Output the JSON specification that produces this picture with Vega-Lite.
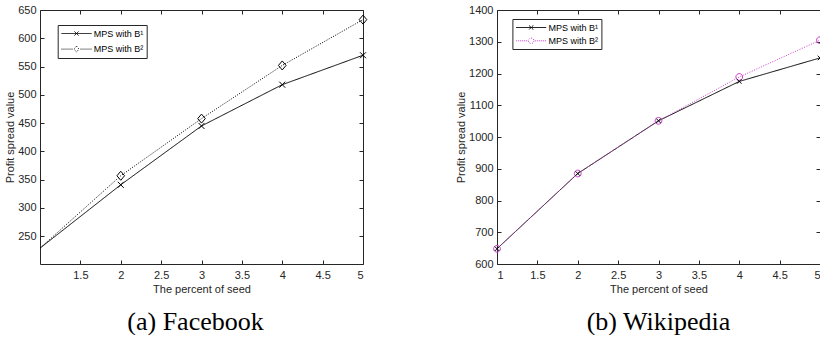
{
  "$schema": "https://vega.github.io/schema/vega-lite/v6.json",
  "background": "white",
  "padding": {"left": 4, "top": 4, "right": 0, "bottom": 0},
  "bounds": "flush",
  "spacing": 134,
  "config": {
    "view": {"stroke": null},
    "axis": {"grid": false, "domainColor": "#262626", "domainWidth": 1, "tickColor": "#262626", "tickSize": -4, "tickWidth": 1,
      "labelFont": "Liberation Sans", "labelFontSize": 11, "labelColor": "#262626",
      "titleFont": "Liberation Sans", "titleFontSize": 11, "titleFontWeight": "normal", "titleColor": "#262626"},
    "legend": {"strokeColor": "#262626", "fillColor": "white", "padding": 3,
      "symbolSize": 100, "symbolOffset": 10.3, "labelOffset": 11.7, "labelFont": "Liberation Sans", "labelFontSize": 9, "labelColor": "#000000",
      "symbolStrokeWidth": 1, "symbolOpacity": 1}
  },
  "resolve": {"scale": {"color": "independent", "strokeDash": "independent", "shape": "independent", "x": "independent", "y": "independent"}, "legend": {"color": "independent", "shape": "independent"}},
  "hconcat": [
    {
      "width": 323, "height": 254,
      "data": {"values": [
        {"percent": 1, "value": 229, "series": "MPS with B¹"},
        {"percent": 2, "value": 341, "series": "MPS with B¹"},
        {"percent": 3, "value": 445, "series": "MPS with B¹"},
        {"percent": 4, "value": 518, "series": "MPS with B¹"},
        {"percent": 5, "value": 570, "series": "MPS with B¹"},
        {"percent": 1, "value": 229, "series": "MPS with B²"},
        {"percent": 2, "value": 357, "series": "MPS with B²"},
        {"percent": 3, "value": 458, "series": "MPS with B²"},
        {"percent": 4, "value": 552, "series": "MPS with B²"},
        {"percent": 5, "value": 633, "series": "MPS with B²"}
      ]},
      "title": {"text": "(a) Facebook", "orient": "bottom", "anchor": "middle", "font": "Liberation Serif", "fontSize": 26, "fontWeight": "normal", "color": "#000000", "offset": 14, "dx": -6},
      "layer": [
        {
          "mark": {"type": "point", "filled": false, "strokeWidth": 1, "opacity": 0},
          "encoding": {
            "x": {"field": "percent", "type": "quantitative", "scale": {"domain": [1, 5], "nice": false, "zero": false}, "axis": null},
            "y": {"field": "value", "type": "quantitative", "scale": {"domain": [201, 650], "nice": false, "zero": false}, "axis": null},
            "color": {"field": "series", "type": "nominal", "scale": {"domain": ["MPS with B¹", "MPS with B²"], "range": ["#000000", "#000000"]},
              "legend": {"orient": "none", "title": null, "legendX": 17.7, "legendY": 15, "rowPadding": 4.6}},
            "shape": {"field": "series", "type": "nominal",
              "scale": {"domain": ["MPS with B¹", "MPS with B²"], "range": [
                "M-3,0H3M-0.4,-0.4L0.4,0.4M-0.4,0.4L0.4,-0.4",
                "M-3,0h0.2M-2.6,0h0.2M-2.2,0h0.2M-1.8,0h0.2M-1.4,0h0.2M-1,0h0.2M0,-0.6L0.5,0L0,0.6L-0.5,0ZM0.8,0h0.2M1.2,0h0.2M1.6,0h0.2M2,0h0.2M2.4,0h0.2M2.8,0h0.2"]},
              "legend": {"orient": "none", "title": null, "legendX": 17.7, "legendY": 15, "rowPadding": 4.6}}
          }
        },
        {
          "mark": {"type": "line", "strokeWidth": 1},
          "encoding": {
            "x": {"field": "percent", "type": "quantitative",
              "axis": {"orient": "bottom", "values": [1.5, 2, 2.5, 3, 3.5, 4, 4.5, 5], "format": "~g", "title": "The percent of seed", "labelPadding": 9.5, "titlePadding": 3}},
            "y": {"field": "value", "type": "quantitative",
              "axis": {"orient": "left", "values": [250, 300, 350, 400, 450, 500, 550, 600, 650], "format": "d", "title": "Profit spread value", "labelPadding": 8, "titlePadding": 2}},
            "color": {"field": "series", "type": "nominal", "legend": null},
            "strokeDash": {"field": "series", "type": "nominal", "scale": {"domain": ["MPS with B¹", "MPS with B²"], "range": [[1, 0], [1, 1.5]]}, "legend": null}
          }
        },
        {
          "transform": [{"filter": "datum.percent > 1 && datum.series === 'MPS with B¹'"}],
          "mark": {"type": "point", "filled": false, "strokeWidth": 1, "size": 81, "opacity": 1, "color": "#000000", "shape": "M-0.67,-0.67L0.67,0.67M-0.67,0.67L0.67,-0.67"},
          "encoding": {
            "x": {"field": "percent", "type": "quantitative", "axis": {"orient": "top", "values": [1.5, 2, 2.5, 3, 3.5, 4, 4.5, 5], "labels": false, "title": null}},
            "y": {"field": "value", "type": "quantitative", "axis": {"orient": "right", "values": [250, 300, 350, 400, 450, 500, 550, 600, 650], "labels": false, "title": null}}
          }
        },
        {
          "transform": [{"filter": "datum.percent > 1 && datum.series === 'MPS with B²'"}],
          "mark": {"type": "point", "filled": false, "strokeWidth": 1, "size": 81, "opacity": 1, "color": "#000000", "shape": "M0,-1L0.85,0L0,1L-0.85,0Z"},
          "encoding": {
            "x": {"field": "percent", "type": "quantitative", "axis": null},
            "y": {"field": "value", "type": "quantitative", "axis": null}
          }
        }
      ],
      "resolve": {"axis": {"x": "independent", "y": "independent"}}
    },
    {
      "width": 323, "height": 254,
      "data": {"values": [
        {"percent": 1, "value": 648, "series": "MPS with B¹"},
        {"percent": 2, "value": 885, "series": "MPS with B¹"},
        {"percent": 3, "value": 1051, "series": "MPS with B¹"},
        {"percent": 4, "value": 1175, "series": "MPS with B¹"},
        {"percent": 5, "value": 1249, "series": "MPS with B¹"},
        {"percent": 1, "value": 648, "series": "MPS with B²"},
        {"percent": 2, "value": 885, "series": "MPS with B²"},
        {"percent": 3, "value": 1051, "series": "MPS with B²"},
        {"percent": 4, "value": 1189, "series": "MPS with B²"},
        {"percent": 5, "value": 1305, "series": "MPS with B²"}
      ]},
      "title": {"text": "(b) Wikipedia", "orient": "bottom", "anchor": "middle", "font": "Liberation Serif", "fontSize": 26, "fontWeight": "normal", "color": "#000000", "offset": 14, "dx": 0},
      "layer": [
        {
          "mark": {"type": "point", "filled": false, "strokeWidth": 1, "opacity": 0},
          "encoding": {
            "x": {"field": "percent", "type": "quantitative", "scale": {"domain": [1, 5], "nice": false, "zero": false}, "axis": null},
            "y": {"field": "value", "type": "quantitative", "scale": {"domain": [600, 1400], "nice": false, "zero": false}, "axis": null},
            "color": {"field": "series", "type": "nominal", "scale": {"domain": ["MPS with B¹", "MPS with B²"], "range": ["#000000", "#c83cc8"]},
              "legend": {"orient": "none", "title": null, "legendX": 15.4, "legendY": 9, "rowPadding": 2.3}},
            "shape": {"field": "series", "type": "nominal",
              "scale": {"domain": ["MPS with B¹", "MPS with B²"], "range": [
                "M-3,0H3M-0.4,-0.4L0.4,0.4M-0.4,0.4L0.4,-0.4",
                "M-3,0h0.2M-2.6,0h0.2M-2.2,0h0.2M-1.8,0h0.2M-1.4,0h0.2M-1,0h0.2M0.55,0A0.55,0.55 0 1,1 -0.55,0A0.55,0.55 0 1,1 0.55,0ZM0.8,0h0.2M1.2,0h0.2M1.6,0h0.2M2,0h0.2M2.4,0h0.2M2.8,0h0.2"]},
              "legend": {"orient": "none", "title": null, "legendX": 15.4, "legendY": 9, "rowPadding": 2.3}}
          }
        },
        {
          "mark": {"type": "line", "strokeWidth": 1},
          "encoding": {
            "x": {"field": "percent", "type": "quantitative",
              "axis": {"orient": "bottom", "values": [1, 1.5, 2, 2.5, 3, 3.5, 4, 4.5, 5], "format": "~g", "title": "The percent of seed", "labelPadding": 9.5, "titlePadding": 3}},
            "y": {"field": "value", "type": "quantitative",
              "axis": {"orient": "left", "values": [600, 700, 800, 900, 1000, 1100, 1200, 1300, 1400], "format": "d", "title": "Profit spread value", "labelPadding": 8, "titlePadding": 2}},
            "color": {"field": "series", "type": "nominal", "legend": null},
            "strokeDash": {"field": "series", "type": "nominal", "scale": {"domain": ["MPS with B¹", "MPS with B²"], "range": [[1, 0], [1, 1.5]]}, "legend": null}
          }
        },
        {
          "transform": [{"filter": "datum.series === 'MPS with B²'"}],
          "mark": {"type": "point", "filled": false, "strokeWidth": 1, "size": 81, "opacity": 1, "color": "#c83cc8", "shape": "M0.75,0A0.75,0.75 0 1,1 -0.75,0A0.75,0.75 0 1,1 0.75,0Z"},
          "encoding": {
            "x": {"field": "percent", "type": "quantitative", "axis": {"orient": "top", "values": [1, 1.5, 2, 2.5, 3, 3.5, 4, 4.5, 5], "labels": false, "title": null}},
            "y": {"field": "value", "type": "quantitative", "axis": {"orient": "right", "values": [600, 700, 800, 900, 1000, 1100, 1200, 1300, 1400], "labels": false, "title": null}}
          }
        },
        {
          "transform": [{"filter": "datum.series === 'MPS with B¹'"}],
          "mark": {"type": "point", "filled": false, "strokeWidth": 1, "size": 81, "opacity": 1, "color": "#000000", "shape": "M-0.5,-0.5L0.5,0.5M-0.5,0.5L0.5,-0.5"},
          "encoding": {
            "x": {"field": "percent", "type": "quantitative", "axis": null},
            "y": {"field": "value", "type": "quantitative", "axis": null}
          }
        }
      ],
      "resolve": {"axis": {"x": "independent", "y": "independent"}}
    }
  ]
}
